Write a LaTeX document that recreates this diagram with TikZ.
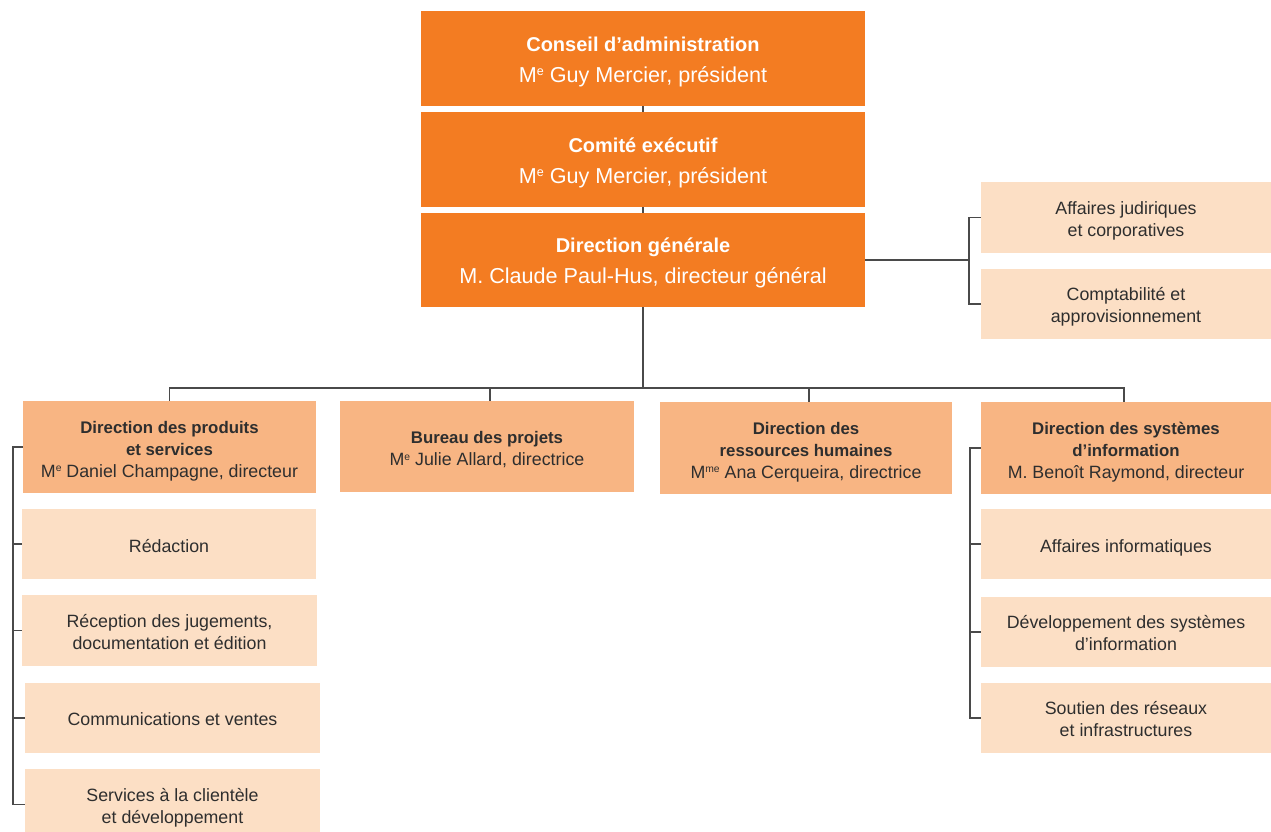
\documentclass[tikz,border=0pt]{standalone}
\usepackage{fontspec}
\setmainfont{Liberation Sans}
\definecolor{orA}{HTML}{F37C22}
\definecolor{orB}{HTML}{F8B583}
\definecolor{orC}{HTML}{FCDFC5}
\definecolor{txt}{HTML}{2E2E2E}
\definecolor{ln}{HTML}{4A4A4A}
\newcommand{\mysup}[1]{\raisebox{0.6ex}{\scalebox{0.58}{#1}}}
\newcommand{\topbold}[1]{{\fontsize{20}{31}\selectfont\bfseries #1}}
\newcommand{\smbold}[1]{{\fontsize{16.8}{22}\selectfont\bfseries #1}}
\newcommand{\lines}[2][3.5pt]{\raisebox{-#1}[\height][\depth]{\begin{tabular}{@{}c@{}}#2\end{tabular}}}
\tikzset{
  topbox/.style={fill=orA, text=white, minimum width=444pt, minimum height=95pt, inner sep=0pt, font=\fontsize{21.6}{31}\selectfont},
  midbox/.style={fill=orB, text=txt, inner sep=0pt, font=\fontsize{17.8}{22}\selectfont},
  subbox/.style={fill=orC, text=txt, inner sep=0pt, font=\fontsize{17.8}{22}\selectfont},
  conn/.style={draw=ln, line width=1.3pt}
}
\begin{document}
\begin{tikzpicture}[x=1pt,y=-1pt]
\useasboundingbox (0,0) rectangle (1271,832);
\clip (0,0) rectangle (1271,832);
% top column
\node[topbox] (ca) at (643,58.5) {\lines[2pt]{\topbold{Conseil d’administration}\\M\mysup{e} Guy Mercier, président}};
\node[topbox] (ce) at (643,159.5) {\lines[2pt]{\topbold{Comité exécutif}\\M\mysup{e} Guy Mercier, président}};
\node[topbox, minimum height=94pt] (dg) at (643,260) {\lines[2pt]{\topbold{Direction générale}\\M. Claude Paul-Hus, directeur général}};
% staff
\node[subbox, minimum width=290pt, minimum height=71pt] (aj) at (1126,217.5) {\lines{Affaires judiriques\\et corporatives}};
\node[subbox, minimum width=290pt, minimum height=70pt] (cp) at (1126,304) {\lines{Comptabilité et\\approvisionnement}};
% directions
\node[midbox, minimum width=293pt, minimum height=92pt] (dp) at (169.5,447) {\lines[4pt]{\smbold{Direction des produits}\\\smbold{et services}\\M\mysup{e} Daniel Champagne, directeur}};
\node[midbox, minimum width=294pt, minimum height=91pt] (bp) at (487,446.5) {\lines[4pt]{\smbold{Bureau des projets}\\M\mysup{e} Julie Allard, directrice}};
\node[midbox, minimum width=292pt, minimum height=92pt] (rh) at (806,448) {\lines[4pt]{\smbold{Direction des}\\\smbold{ressources humaines}\\M\mysup{me} Ana Cerqueira, directrice}};
\node[midbox, minimum width=290pt, minimum height=92pt] (si) at (1126,448) {\lines[4pt]{\smbold{Direction des systèmes}\\\smbold{d’information}\\M. Benoît Raymond, directeur}};
% left sub units
\node[subbox, minimum width=294pt, minimum height=70pt] (re) at (169,544) {\lines[4pt]{Rédaction}};
\node[subbox, minimum width=295pt, minimum height=71pt] (rj) at (169.5,630.5) {\lines{Réception des jugements,\\documentation et édition}};
\node[subbox, minimum width=295pt, minimum height=70pt] (cv) at (172.5,718) {\lines{Communications et ventes}};
\node[subbox, minimum width=295pt, minimum height=71pt] (sc) at (172.5,804.5) {\lines{Services à la clientèle\\et développement}};
% right sub units
\node[subbox, minimum width=290pt, minimum height=70pt] (ai) at (1126,544) {\lines[4pt]{Affaires informatiques}};
\node[subbox, minimum width=290pt, minimum height=70pt] (ds) at (1126,632) {\lines{Développement des systèmes\\d’information}};
\node[subbox, minimum width=290pt, minimum height=70pt] (sr) at (1126,718) {\lines{Soutien des réseaux\\et infrastructures}};
% connectors: top column
\draw[conn] (ca.south) -- (ce.north);
\draw[conn] (ce.south) -- (dg.north);
% bus
\coordinate (bus) at (643,388);
\draw[conn] (dg.south) -- (bus);
\draw[conn] (dp.north) |- (bus) -| ([xshift=3pt]bp.north);
\draw[conn] (bus) -| ([xshift=3pt]rh.north);
\draw[conn] (bus) -| ([xshift=-2pt]si.north);
% staff bracket
\coordinate (sbr) at (969,260);
\draw[conn] (dg.east) -- (sbr);
\draw[conn] (aj.west) -| (sbr) |- (cp.west);
% left bracket
\coordinate (lb) at (13,0);
\draw[conn] (dp.west) -| (lb |- sc.west) -- (sc.west);
\draw[conn] (re.west) -- (re.west -| lb);
\draw[conn] (rj.west) -- (rj.west -| lb);
\draw[conn] (cv.west) -- (cv.west -| lb);
% right bracket
\coordinate (rb) at (970,0);
\draw[conn] (si.west) -| (rb |- sr.west) -- (sr.west);
\draw[conn] (ai.west) -- (ai.west -| rb);
\draw[conn] (ds.west) -- (ds.west -| rb);
\end{tikzpicture}
\end{document}
